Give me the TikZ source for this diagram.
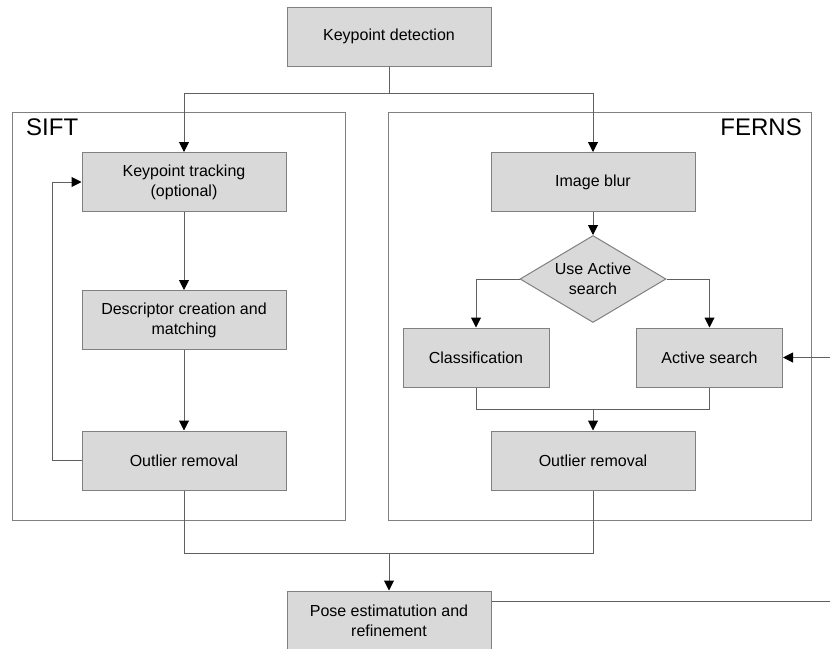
\documentclass[tikz,border=0pt]{standalone}
\usepackage{fontspec}
\setmainfont{Liberation Sans}
\usetikzlibrary{arrows.meta,shapes.geometric}
\definecolor{boxfill}{HTML}{D9D9D9}
\definecolor{boxline}{HTML}{808080}
\definecolor{conn}{HTML}{606060}
\begin{document}
\begin{tikzpicture}[x=1pt,y=-1pt,
  box/.style={draw=boxline,fill=boxfill,line width=1pt,minimum width=204pt,minimum height=59pt,inner sep=2pt,align=center,font=\fontsize{16}{20}\selectfont},
  sbox/.style={box,minimum width=146pt},
  dbox/.style={draw=boxline,fill=boxfill,line width=1pt,shape=diamond,shape aspect=1.68,minimum width=146pt,minimum height=87pt,inner sep=0pt,align=center,font=\fontsize{16}{20}\selectfont},
  group/.style={draw=boxline,line width=1pt},
  conn/.style={draw=conn,line width=1pt},
  arr/.style={conn,-{Triangle[length=10pt,width=10pt,color=black]}},
  glabel/.style={font=\fontsize{24}{28}\selectfont,inner sep=0pt}
]
\useasboundingbox (0,0) rectangle (830,648);
% group frames
\draw[group] (12,112) rectangle (345,520);
\draw[group] (388,112) rectangle (811,520);
\node[glabel,anchor=north west] (sift) at (26,119) {SIFT};
\node[glabel,anchor=north east] (ferns) at (802,119) {FERNS};
% nodes
\node[box] (kd) at (389,36.5) {Keypoint detection};
\node[box] (kt) at (184,182) {Keypoint tracking\\(optional)};
\node[box] (dc) at (184,320) {Descriptor creation and\\matching};
\node[box] (or1) at (184,460.5) {Outlier removal};
\node[box] (ib) at (593,182) {Image blur};
\node[dbox] (dia) at (593,279) {Use Active\\search};
\node[sbox] (cl) at (476,357.5) {Classification};
\node[sbox] (as) at (709.5,357.5) {Active search};
\node[box] (or2) at (593,460.5) {Outlier removal};
\node[box] (pose) at (389,620.5) {Pose estimatution and\\refinement};
% connectors
\draw[conn] (kd.south) -- ++(0,27) coordinate (j1);
\draw[arr] (j1) -| (kt.north);
\draw[arr] (j1) -| (ib.north);
\draw[arr] (kt) -- (dc);
\draw[arr] (dc) -- (or1);
\draw[arr] (or1.west) -- ++(-29,0) |- (kt.west);
\draw[arr] (ib) -- (dia);
\draw[arr] (dia.west) -| (cl.north);
\draw[arr] (dia.east) -| (as.north);
\draw[conn] (cl.south) -- ++(0,22) coordinate (m1) -| (as.south);
\draw[arr] (m1 -| or2) -- (or2.north);
\coordinate (ext) at (830,357.5);
\draw[arr] (ext) -- (as.east);
\draw[conn] (or1.south) -- ++(0,62.5) coordinate (m3) -| (or2.south);
\draw[arr] (m3 -| pose) -- (pose.north);
\coordinate (pe) at (830,601);
\draw[conn] (pe -| pose.east) -- (pe);
\end{tikzpicture}
\end{document}
